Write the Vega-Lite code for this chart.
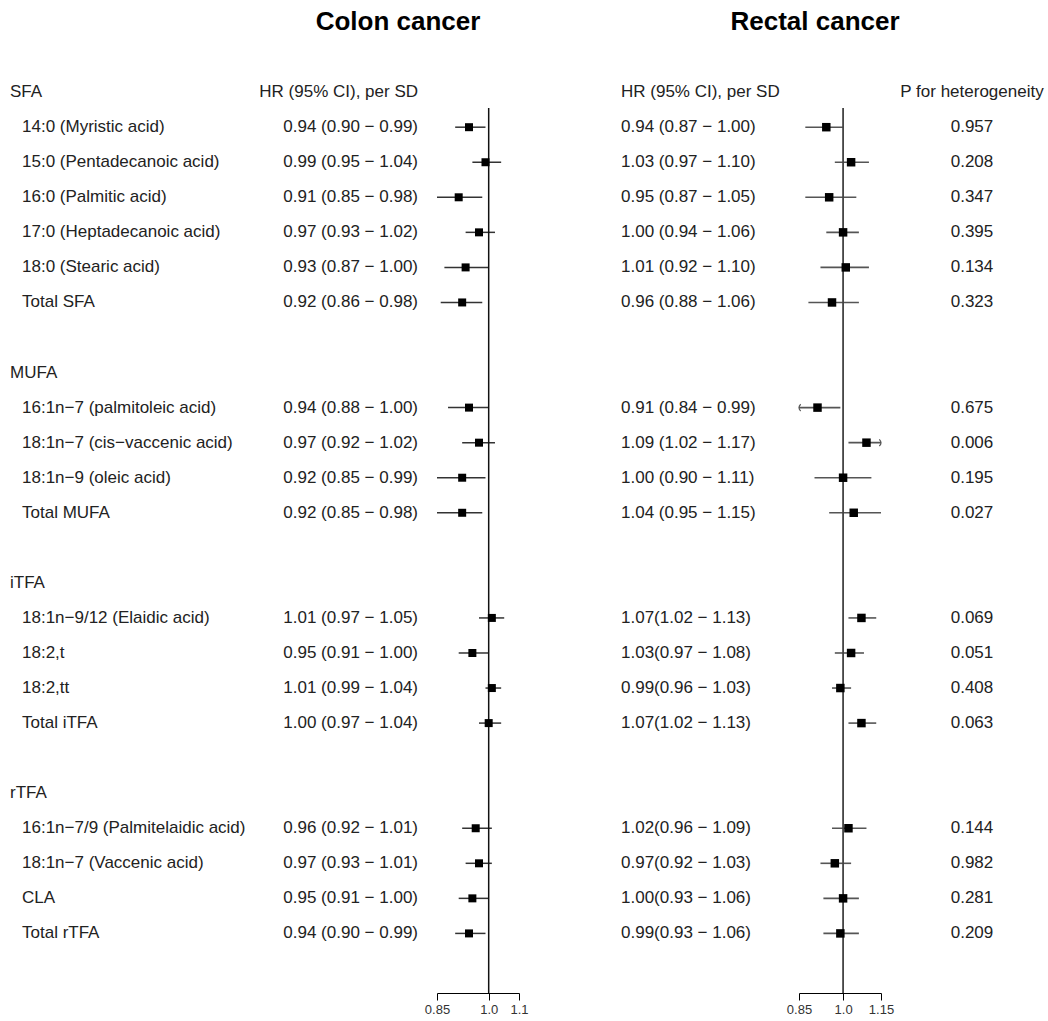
{
  "$schema": "https://vega.github.io/schema/vega-lite/v6.json",
  "padding": {"left": 10, "top": 1, "right": 0, "bottom": 0},
  "spacing": 0,
  "bounds": "flush",
  "config": {
    "view": {"stroke": null},
    "text": {"font": "Liberation Sans", "fontSize": 17, "color": "#222", "baseline": "middle"}
  },
  "datasets": {
    "rows": [
      {"row": 1, "kind": "group", "label": "SFA", "colon_txt": "HR (95% CI), per SD", "rectal_txt": "HR (95% CI), per SD", "p": "P for heterogeneity"},
      {"row": 2, "kind": "item", "label": "14:0 (Myristic acid)", "colon_hr": 0.94, "colon_lo": 0.90, "colon_hi": 0.99, "colon_txt": "0.94 (0.90 − 0.99)", "rectal_hr": 0.94, "rectal_lo": 0.87, "rectal_hi": 1.00, "rectal_txt": "0.94 (0.87 − 1.00)", "p": "0.957"},
      {"row": 3, "kind": "item", "label": "15:0 (Pentadecanoic acid)", "colon_hr": 0.99, "colon_lo": 0.95, "colon_hi": 1.04, "colon_txt": "0.99 (0.95 − 1.04)", "rectal_hr": 1.03, "rectal_lo": 0.97, "rectal_hi": 1.10, "rectal_txt": "1.03 (0.97 − 1.10)", "p": "0.208"},
      {"row": 4, "kind": "item", "label": "16:0 (Palmitic acid)", "colon_hr": 0.91, "colon_lo": 0.85, "colon_hi": 0.98, "colon_txt": "0.91 (0.85 − 0.98)", "rectal_hr": 0.95, "rectal_lo": 0.87, "rectal_hi": 1.05, "rectal_txt": "0.95 (0.87 − 1.05)", "p": "0.347"},
      {"row": 5, "kind": "item", "label": "17:0 (Heptadecanoic acid)", "colon_hr": 0.97, "colon_lo": 0.93, "colon_hi": 1.02, "colon_txt": "0.97 (0.93 − 1.02)", "rectal_hr": 1.00, "rectal_lo": 0.94, "rectal_hi": 1.06, "rectal_txt": "1.00 (0.94 − 1.06)", "p": "0.395"},
      {"row": 6, "kind": "item", "label": "18:0 (Stearic acid)", "colon_hr": 0.93, "colon_lo": 0.87, "colon_hi": 1.00, "colon_txt": "0.93 (0.87 − 1.00)", "rectal_hr": 1.01, "rectal_lo": 0.92, "rectal_hi": 1.10, "rectal_txt": "1.01 (0.92 − 1.10)", "p": "0.134"},
      {"row": 7, "kind": "item", "label": "Total SFA", "colon_hr": 0.92, "colon_lo": 0.86, "colon_hi": 0.98, "colon_txt": "0.92 (0.86 − 0.98)", "rectal_hr": 0.96, "rectal_lo": 0.88, "rectal_hi": 1.06, "rectal_txt": "0.96 (0.88 − 1.06)", "p": "0.323"},
      {"row": 9, "kind": "group", "label": "MUFA"},
      {"row": 10, "kind": "item", "label": "16:1n−7 (palmitoleic acid)", "colon_hr": 0.94, "colon_lo": 0.88, "colon_hi": 1.00, "colon_txt": "0.94 (0.88 − 1.00)", "rectal_hr": 0.91, "rectal_lo": 0.84, "rectal_hi": 0.99, "rectal_txt": "0.91 (0.84 − 0.99)", "p": "0.675"},
      {"row": 11, "kind": "item", "label": "18:1n−7 (cis−vaccenic acid)", "colon_hr": 0.97, "colon_lo": 0.92, "colon_hi": 1.02, "colon_txt": "0.97 (0.92 − 1.02)", "rectal_hr": 1.09, "rectal_lo": 1.02, "rectal_hi": 1.17, "rectal_txt": "1.09 (1.02 − 1.17)", "p": "0.006"},
      {"row": 12, "kind": "item", "label": "18:1n−9 (oleic acid)", "colon_hr": 0.92, "colon_lo": 0.85, "colon_hi": 0.99, "colon_txt": "0.92 (0.85 − 0.99)", "rectal_hr": 1.00, "rectal_lo": 0.90, "rectal_hi": 1.11, "rectal_txt": "1.00 (0.90 − 1.11)", "p": "0.195"},
      {"row": 13, "kind": "item", "label": "Total MUFA", "colon_hr": 0.92, "colon_lo": 0.85, "colon_hi": 0.98, "colon_txt": "0.92 (0.85 − 0.98)", "rectal_hr": 1.04, "rectal_lo": 0.95, "rectal_hi": 1.15, "rectal_txt": "1.04 (0.95 − 1.15)", "p": "0.027"},
      {"row": 15, "kind": "group", "label": "iTFA"},
      {"row": 16, "kind": "item", "label": "18:1n−9/12 (Elaidic acid)", "colon_hr": 1.01, "colon_lo": 0.97, "colon_hi": 1.05, "colon_txt": "1.01 (0.97 − 1.05)", "rectal_hr": 1.07, "rectal_lo": 1.02, "rectal_hi": 1.13, "rectal_txt": "1.07(1.02 − 1.13)", "p": "0.069"},
      {"row": 17, "kind": "item", "label": "18:2,t", "colon_hr": 0.95, "colon_lo": 0.91, "colon_hi": 1.00, "colon_txt": "0.95 (0.91 − 1.00)", "rectal_hr": 1.03, "rectal_lo": 0.97, "rectal_hi": 1.08, "rectal_txt": "1.03(0.97 − 1.08)", "p": "0.051"},
      {"row": 18, "kind": "item", "label": "18:2,tt", "colon_hr": 1.01, "colon_lo": 0.99, "colon_hi": 1.04, "colon_txt": "1.01 (0.99 − 1.04)", "rectal_hr": 0.99, "rectal_lo": 0.96, "rectal_hi": 1.03, "rectal_txt": "0.99(0.96 − 1.03)", "p": "0.408"},
      {"row": 19, "kind": "item", "label": " Total iTFA", "colon_hr": 1.00, "colon_lo": 0.97, "colon_hi": 1.04, "colon_txt": "1.00 (0.97 − 1.04)", "rectal_hr": 1.07, "rectal_lo": 1.02, "rectal_hi": 1.13, "rectal_txt": "1.07(1.02 − 1.13)", "p": "0.063"},
      {"row": 21, "kind": "group", "label": "rTFA"},
      {"row": 22, "kind": "item", "label": "16:1n−7/9 (Palmitelaidic acid)", "colon_hr": 0.96, "colon_lo": 0.92, "colon_hi": 1.01, "colon_txt": "0.96 (0.92 − 1.01)", "rectal_hr": 1.02, "rectal_lo": 0.96, "rectal_hi": 1.09, "rectal_txt": "1.02(0.96 − 1.09)", "p": "0.144"},
      {"row": 23, "kind": "item", "label": "18:1n−7 (Vaccenic acid)", "colon_hr": 0.97, "colon_lo": 0.93, "colon_hi": 1.01, "colon_txt": "0.97 (0.93 − 1.01)", "rectal_hr": 0.97, "rectal_lo": 0.92, "rectal_hi": 1.03, "rectal_txt": "0.97(0.92 − 1.03)", "p": "0.982"},
      {"row": 24, "kind": "item", "label": "CLA", "colon_hr": 0.95, "colon_lo": 0.91, "colon_hi": 1.00, "colon_txt": "0.95 (0.91 − 1.00)", "rectal_hr": 1.00, "rectal_lo": 0.93, "rectal_hi": 1.06, "rectal_txt": "1.00(0.93 − 1.06)", "p": "0.281"},
      {"row": 25, "kind": "item", "label": "Total rTFA", "colon_hr": 0.94, "colon_lo": 0.90, "colon_hi": 0.99, "colon_txt": "0.94 (0.90 − 0.99)", "rectal_hr": 0.99, "rectal_lo": 0.93, "rectal_hi": 1.06, "rectal_txt": "0.99(0.93 − 1.06)", "p": "0.209"}
    ],
    "titles": [
      {"row": -1, "panel": "colon", "title": "Colon cancer"},
      {"row": -1, "panel": "rectal", "title": "Rectal cancer"}
    ],
    "ref": [{"ref": 1, "top": 1.45, "bottom": 26.7}]
  },
  "hconcat": [
    {
      "width": 240, "height": 992,
      "data": {"name": "rows"},
      "layer": [
        {
          "transform": [{"filter": "datum.kind == 'group'"}],
          "mark": {"type": "text", "align": "left", "x": 0},
          "encoding": {
            "y": {"field": "row", "type": "quantitative", "scale": {"domain": [26.7, -1.6], "nice": false, "zero": false}, "axis": null},
            "text": {"field": "label"}
          }
        },
        {
          "transform": [{"filter": "datum.kind == 'item'"}],
          "mark": {"type": "text", "align": "left", "x": 0, "dx": 12},
          "encoding": {
            "y": {"field": "row", "type": "quantitative", "scale": {"domain": [26.7, -1.6], "nice": false, "zero": false}, "axis": null},
            "text": {"field": "label"}
          }
        }
      ]
    },
    {
      "width": 187, "height": 992,
      "layer": [
        {
          "data": {"name": "rows"},
          "transform": [{"filter": "datum.colon_txt != null"}],
          "mark": {"type": "text", "align": "right", "x": "width", "dx": -19},
          "encoding": {
            "y": {"field": "row", "type": "quantitative", "scale": {"domain": [26.7, -1.6], "nice": false, "zero": false}, "axis": null},
            "text": {"field": "colon_txt"}
          }
        },
        {
          "data": {"name": "titles"},
          "transform": [{"filter": "datum.panel == 'colon'"}],
          "mark": {"type": "text", "align": "center", "x": "width", "dx": -39, "fontSize": 26, "fontWeight": "bold", "color": "#000"},
          "encoding": {
            "y": {"field": "row", "type": "quantitative", "scale": {"domain": [26.7, -1.6], "nice": false, "zero": false}, "axis": null},
            "text": {"field": "title"}
          }
        }
      ]
    },
    {
      "width": 82, "height": 992,
      "layer": [
        {
          "data": {"name": "rows"},
          "transform": [{"filter": "datum.colon_lo != null"}],
          "mark": {"type": "rule", "color": "#333", "strokeWidth": 1.5, "clip": true},
          "encoding": {
            "x": {"field": "colon_lo", "type": "quantitative",
                  "scale": {"type": "log", "domain": [0.85, 1.1], "nice": false, "zero": false},
                  "axis": {"values": [0.85, 1.0, 1.1], "labelExpr": "datum.value < 0.9 ? '0.85' : format(datum.value, '.1f')",
                           "grid": false, "title": null, "domainColor": "#000", "tickColor": "#000", "tickSize": 7,
                           "labelFont": "Liberation Sans", "labelFontSize": 13, "labelColor": "#333", "labelFlush": false,
                           "labelPadding": 3, "domainWidth": 1, "tickWidth": 1}},
            "x2": {"field": "colon_hi"},
            "y": {"field": "row", "type": "quantitative", "scale": {"domain": [26.7, -1.6], "nice": false, "zero": false}, "axis": null}
          }
        },
        {
          "data": {"name": "ref"},
          "mark": {"type": "rule", "color": "#111", "strokeWidth": 1.5},
          "encoding": {
            "x": {"field": "ref", "type": "quantitative", "scale": {"type": "log", "domain": [0.85, 1.1], "nice": false, "zero": false}},
            "y": {"field": "top", "type": "quantitative", "scale": {"domain": [26.7, -1.6], "nice": false, "zero": false}},
            "y2": {"field": "bottom"}
          }
        },
        {
          "data": {"name": "rows"},
          "transform": [{"filter": "datum.colon_hr != null"}],
          "mark": {"type": "point", "shape": "square", "filled": true, "color": "#000", "opacity": 1, "size": 64},
          "encoding": {
            "x": {"field": "colon_hr", "type": "quantitative", "scale": {"type": "log", "domain": [0.85, 1.1], "nice": false, "zero": false}},
            "y": {"field": "row", "type": "quantitative", "scale": {"domain": [26.7, -1.6], "nice": false, "zero": false}}
          }
        }
      ]
    },
    {
      "width": 280, "height": 992,
      "layer": [
        {
          "data": {"name": "rows"},
          "transform": [{"filter": "datum.rectal_txt != null"}],
          "mark": {"type": "text", "align": "left", "x": 0, "dx": 102},
          "encoding": {
            "y": {"field": "row", "type": "quantitative", "scale": {"domain": [26.7, -1.6], "nice": false, "zero": false}, "axis": null},
            "text": {"field": "rectal_txt"}
          }
        },
        {
          "data": {"name": "titles"},
          "transform": [{"filter": "datum.panel == 'rectal'"}],
          "mark": {"type": "text", "align": "center", "x": "width", "dx": 16, "fontSize": 26, "fontWeight": "bold", "color": "#000"},
          "encoding": {
            "y": {"field": "row", "type": "quantitative", "scale": {"domain": [26.7, -1.6], "nice": false, "zero": false}, "axis": null},
            "text": {"field": "title"}
          }
        }
      ]
    },
    {
      "width": 82, "height": 992,
      "layer": [
        {
          "data": {"name": "rows"},
          "transform": [{"filter": "datum.rectal_lo != null"}],
          "mark": {"type": "rule", "color": "#555", "strokeWidth": 1.6, "clip": true},
          "encoding": {
            "x": {"field": "rectal_lo", "type": "quantitative",
                  "scale": {"type": "log", "domain": [0.85, 1.15], "nice": false, "zero": false},
                  "axis": {"values": [0.85, 1.0, 1.15], "labelExpr": "datum.value < 0.9 ? '0.85' : datum.value > 1.1 ? '1.15' : '1.0'",
                           "grid": false, "title": null, "domainColor": "#000", "tickColor": "#000", "tickSize": 7,
                           "labelFont": "Liberation Sans", "labelFontSize": 13, "labelColor": "#333", "labelFlush": false,
                           "labelPadding": 3, "domainWidth": 1, "tickWidth": 1}},
            "x2": {"field": "rectal_hi"},
            "y": {"field": "row", "type": "quantitative", "scale": {"domain": [26.7, -1.6], "nice": false, "zero": false}, "axis": null}
          }
        },
        {
          "data": {"name": "ref"},
          "mark": {"type": "rule", "color": "#444", "strokeWidth": 1.8},
          "encoding": {
            "x": {"field": "ref", "type": "quantitative", "scale": {"type": "log", "domain": [0.85, 1.15], "nice": false, "zero": false}},
            "y": {"field": "top", "type": "quantitative", "scale": {"domain": [26.7, -1.6], "nice": false, "zero": false}},
            "y2": {"field": "bottom"}
          }
        },
        {
          "data": {"name": "rows"},
          "transform": [{"filter": "datum.rectal_lo != null && datum.rectal_lo < 0.85"}],
          "mark": {"type": "point", "shape": "M0.5,-1Q-0.5,0,0.5,1", "filled": false, "color": "#555", "opacity": 1, "size": 45, "strokeWidth": 1.2},
          "encoding": {
            "x": {"datum": 0.85, "type": "quantitative", "scale": {"type": "log", "domain": [0.85, 1.15], "nice": false, "zero": false}},
            "y": {"field": "row", "type": "quantitative", "scale": {"domain": [26.7, -1.6], "nice": false, "zero": false}}
          }
        },
        {
          "data": {"name": "rows"},
          "transform": [{"filter": "datum.rectal_hi != null && datum.rectal_hi > 1.15"}],
          "mark": {"type": "point", "shape": "M-0.5,-1Q0.5,0,-0.5,1", "filled": false, "color": "#555", "opacity": 1, "size": 45, "strokeWidth": 1.2},
          "encoding": {
            "x": {"datum": 1.15, "type": "quantitative", "scale": {"type": "log", "domain": [0.85, 1.15], "nice": false, "zero": false}},
            "y": {"field": "row", "type": "quantitative", "scale": {"domain": [26.7, -1.6], "nice": false, "zero": false}}
          }
        },
        {
          "data": {"name": "rows"},
          "transform": [{"filter": "datum.rectal_hr != null"}],
          "mark": {"type": "point", "shape": "square", "filled": true, "color": "#000", "opacity": 1, "size": 72},
          "encoding": {
            "x": {"field": "rectal_hr", "type": "quantitative", "scale": {"type": "log", "domain": [0.85, 1.15], "nice": false, "zero": false}},
            "y": {"field": "row", "type": "quantitative", "scale": {"domain": [26.7, -1.6], "nice": false, "zero": false}}
          }
        }
      ]
    },
    {
      "width": 167, "height": 992,
      "data": {"name": "rows"},
      "transform": [{"filter": "datum.p != null"}],
      "mark": {"type": "text", "align": "center", "x": "width", "dx": -76},
      "encoding": {
        "y": {"field": "row", "type": "quantitative", "scale": {"domain": [26.7, -1.6], "nice": false, "zero": false}, "axis": null},
        "text": {"field": "p"}
      }
    }
  ]
}
